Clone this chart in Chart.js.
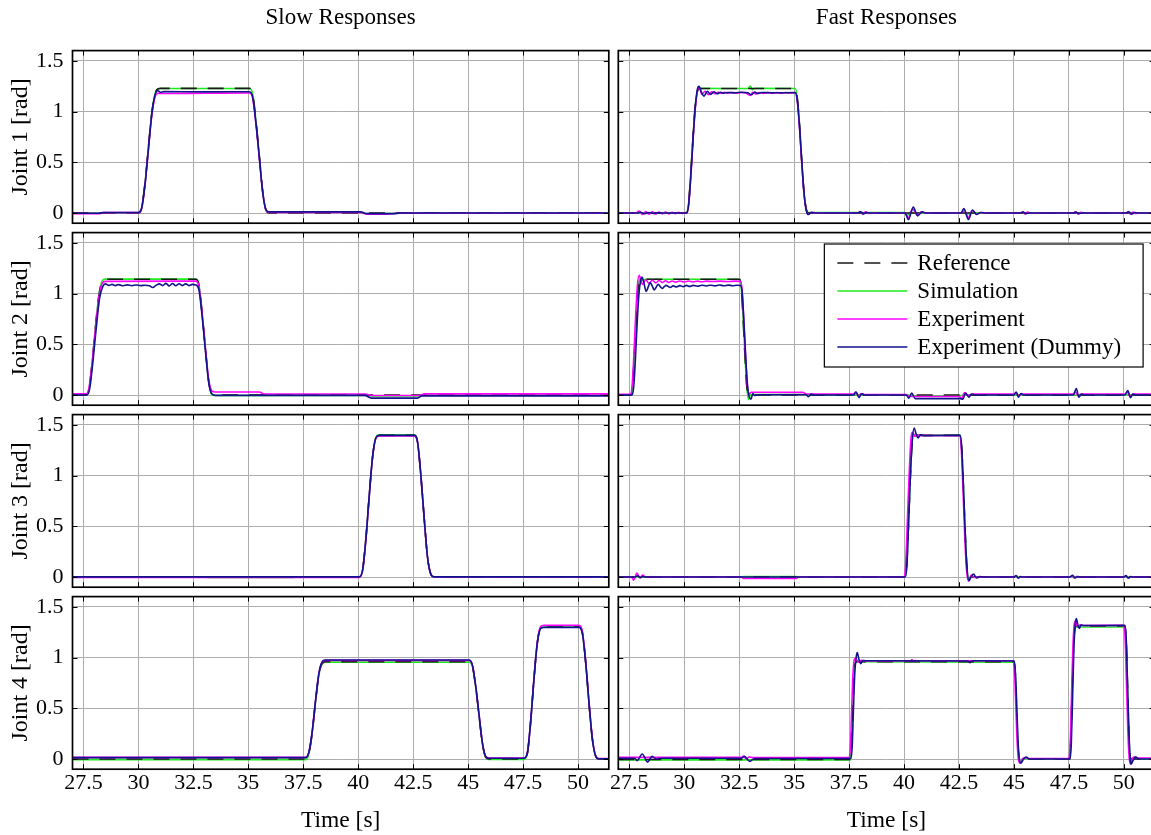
<!DOCTYPE html>
<html><head><meta charset="utf-8">
<script src="https://cdn.jsdelivr.net/npm/chart.js@4.4.0/dist/chart.umd.min.js"></script>
<style>
html,body{margin:0;padding:0;background:#fff;overflow:hidden;width:1151px;height:835px;}
.p{position:absolute;}
</style></head><body>
<div id="wrap"></div>
<script>
// ---------------- DATA ----------------
const xTicks = [27.5, 30, 32.5, 35, 37.5, 40, 42.5, 45, 47.5, 50];
const yTicks = [0, 0.5, 1, 1.5];
const columnTitles = ['Slow Responses', 'Fast Responses'];
const jointLabels = ['Joint 1 [rad]', 'Joint 2 [rad]', 'Joint 3 [rad]', 'Joint 4 [rad]'];
const xTitle = 'Time [s]';
const seriesNames = ['Reference', 'Simulation', 'Experiment', 'Experiment (Dummy)'];

// ---- Slow, Joint 1 ----
const slowRef1 = [[27,0],[30.0,0],[30.15,0.06],[30.3,0.3],[30.45,0.64],[30.6,0.97],[30.75,1.17],[30.9,1.225],[31.0,1.228],[35.05,1.228],[35.2,1.17],[35.35,0.9],[35.5,0.56],[35.65,0.22],[35.8,0.03],[35.95,0],[51.4,0]];
const slowSim1 = [[27,0],[30.0,0],[30.15,0.06],[30.3,0.3],[30.45,0.64],[30.6,0.97],[30.75,1.17],[30.9,1.224],[31.0,1.226],[35.05,1.226],[35.2,1.17],[35.35,0.9],[35.5,0.56],[35.65,0.22],[35.8,0.03],[35.95,0.008],[40.1,0.008],[40.3,-0.005],[41.5,-0.005],[42,0],[51.4,0]];
const slowExp1 = [[27,-0.006],[28.2,-0.006],[28.4,0.004],[30.0,0.004],[30.15,0.05],[30.3,0.28],[30.45,0.62],[30.6,0.95],[30.75,1.14],[30.9,1.18],[31.1,1.178],[33,1.18],[35.05,1.182],[35.2,1.13],[35.35,0.87],[35.5,0.54],[35.65,0.21],[35.8,0.03],[35.95,0.006],[40.1,0.006],[40.4,-0.012],[41.2,-0.012],[41.8,-0.002],[51.4,-0.002]];
const slowDum1 = [[27,-0.002],[28.2,-0.002],[28.4,0.005],[30.0,0.005],[30.15,0.05],[30.3,0.28],[30.45,0.62],[30.6,0.96],[30.75,1.16],[30.88,1.205],[31.0,1.19],[31.15,1.196],[33,1.193],[35.05,1.195],[35.2,1.14],[35.35,0.88],[35.5,0.55],[35.65,0.21],[35.8,0.035],[35.95,0.012],[40.1,0.012],[40.4,-0.006],[41.5,-0.006],[42,0],[51.4,0]];

// ---- Fast, Joint 1 ----
const fastRef1 = [[27,0],[30.1,0],[30.2,0.1],[30.3,0.4],[30.4,0.75],[30.5,1.05],[30.6,1.2],[30.7,1.226],[35.05,1.226],[35.15,1.12],[35.25,0.85],[35.35,0.5],[35.45,0.2],[35.55,0.04],[35.65,0],[51.4,0]];
const fastSim1 = [[27,0],[30.1,0],[30.2,0.1],[30.3,0.4],[30.4,0.75],[30.5,1.05],[30.6,1.2],[30.7,1.228],[32.9,1.226],[33.0,1.25],[33.1,1.215],[33.2,1.228],[35.05,1.226],[35.15,1.12],[35.25,0.85],[35.35,0.5],[35.45,0.2],[35.55,0.04],[35.65,0.004],[40.05,0.004],[40.15,-0.02],[40.3,0.01],[40.45,0.002],[42.6,0.002],[42.7,0.015],[42.85,-0.01],[43.0,0.002],[51.4,0.002]];
const fastExp1 = [[27,0],[27.8,0],[27.95,0.02],[28.1,-0.015],[28.25,0.015],[28.4,-0.012],[28.55,0.012],[28.7,-0.01],[28.85,0.01],[29.0,-0.008],[29.15,0.01],[29.3,-0.008],[29.45,0.008],[29.6,-0.006],[29.75,0.008],[29.9,-0.005],[30.05,0.005],[30.12,0],[30.2,0.08],[30.3,0.36],[30.4,0.72],[30.5,1.02],[30.6,1.2],[30.68,1.24],[30.8,1.17],[30.95,1.2],[31.1,1.165],[31.25,1.195],[31.4,1.175],[31.55,1.19],[31.7,1.178],[31.85,1.19],[32.0,1.18],[32.2,1.188],[32.4,1.18],[32.6,1.188],[32.8,1.182],[33.0,1.158],[33.12,1.19],[33.25,1.172],[33.4,1.186],[33.6,1.178],[33.8,1.186],[34.0,1.18],[34.2,1.186],[34.4,1.18],[34.6,1.186],[34.8,1.182],[35.05,1.185],[35.15,1.09],[35.25,0.82],[35.35,0.48],[35.45,0.19],[35.55,0.03],[35.65,-0.012],[35.8,0.008],[36.0,0],[37.9,0],[38.0,0.015],[38.12,-0.01],[38.25,0.012],[38.4,-0.005],[38.55,0],[40.05,0],[40.18,-0.05],[40.4,0.04],[40.6,-0.02],[40.8,0.012],[41.0,0],[42.6,0],[42.72,0.04],[42.92,-0.045],[43.1,0.025],[43.3,-0.01],[43.5,0.005],[43.7,0],[45.3,0],[45.4,0.012],[45.5,-0.01],[45.62,0.01],[45.75,0],[47.7,0],[47.8,0.012],[47.92,-0.01],[48.05,0.008],[48.2,0],[50.1,0],[50.2,0.015],[50.3,-0.012],[50.42,0.01],[50.55,-0.005],[50.7,0],[51.4,0]];
const fastDum1 = [[27,0],[27.9,0],[28.0,0.008],[28.2,-0.006],[28.4,0.005],[28.6,-0.004],[28.8,0.003],[29.0,0],[30.1,0],[30.2,0.08],[30.3,0.37],[30.4,0.73],[30.5,1.04],[30.6,1.22],[30.67,1.248],[30.78,1.19],[30.9,1.152],[31.05,1.2],[31.2,1.168],[31.35,1.195],[31.5,1.175],[31.65,1.19],[31.8,1.18],[32.0,1.188],[32.3,1.184],[32.6,1.19],[32.9,1.185],[33.05,1.165],[33.2,1.192],[33.35,1.178],[33.5,1.188],[34.0,1.185],[35.05,1.186],[35.15,1.1],[35.25,0.84],[35.35,0.5],[35.45,0.2],[35.55,0.03],[35.65,-0.015],[35.78,0.006],[36.0,0],[37.9,0],[38.02,0.012],[38.15,-0.008],[38.3,0.006],[38.45,0],[40.05,0],[40.2,-0.065],[40.42,0.058],[40.62,-0.028],[40.82,0.012],[41.0,0],[42.6,0],[42.72,0.045],[42.93,-0.062],[43.12,0.03],[43.3,-0.014],[43.5,0.006],[43.7,0],[45.3,0],[45.42,0.01],[45.55,-0.006],[45.7,0],[47.7,0],[47.82,0.01],[47.95,-0.006],[48.1,0],[50.1,0],[50.22,0.012],[50.35,-0.01],[50.5,0.006],[50.65,0],[51.4,0]];

// ---- Slow, Joint 2 ----
const slowRef2 = [[27,0],[27.62,0],[27.75,0.06],[27.9,0.33],[28.05,0.68],[28.2,0.98],[28.35,1.12],[28.5,1.14],[32.6,1.14],[32.75,1.09],[32.9,0.8],[33.05,0.45],[33.2,0.13],[33.35,0.01],[33.5,0],[51.4,0]];
const slowSim2 = [[27,0],[27.62,0],[27.75,0.06],[27.9,0.33],[28.05,0.68],[28.2,0.98],[28.35,1.125],[28.5,1.142],[32.6,1.142],[32.75,1.09],[32.9,0.8],[33.05,0.45],[33.2,0.13],[33.35,0.0],[33.5,-0.004],[40.3,-0.004],[40.6,-0.01],[42.7,-0.01],[42.9,0],[51.4,0]];
const slowExp2 = [[27,0.012],[27.62,0.012],[27.75,0.07],[27.9,0.33],[28.05,0.67],[28.2,0.96],[28.35,1.1],[28.5,1.12],[32.6,1.122],[32.75,1.075],[32.9,0.8],[33.05,0.46],[33.2,0.15],[33.35,0.04],[33.5,0.03],[35.5,0.03],[35.7,0.01],[40.3,0.01],[40.6,-0.005],[42.8,-0.005],[43.0,0.012],[51.4,0.012]];
const slowDum2 = [[27,0],[27.65,0],[27.78,0.06],[27.93,0.33],[28.08,0.66],[28.23,0.95],[28.38,1.07],[28.5,1.095],[28.65,1.08],[28.8,1.09],[28.95,1.078],[29.1,1.088],[29.3,1.076],[29.5,1.085],[29.7,1.077],[29.9,1.084],[30.1,1.078],[30.3,1.082],[30.5,1.076],[30.65,1.06],[30.8,1.08],[30.95,1.095],[31.1,1.078],[31.25,1.1],[31.4,1.075],[31.55,1.098],[31.7,1.076],[31.85,1.096],[32.0,1.078],[32.15,1.095],[32.3,1.078],[32.45,1.09],[32.6,1.085],[32.75,1.04],[32.9,0.77],[33.05,0.43],[33.2,0.12],[33.35,0.01],[33.5,-0.003],[40.3,-0.003],[40.6,-0.03],[42.7,-0.03],[42.9,-0.008],[51.4,-0.008]];

// ---- Fast, Joint 2 ----
const fastRef2 = [[27,0],[27.58,0],[27.65,0.08],[27.72,0.35],[27.8,0.7],[27.88,1.0],[27.96,1.12],[28.05,1.14],[32.52,1.14],[32.6,1.05],[32.68,0.75],[32.76,0.4],[32.84,0.1],[32.92,0],[51.4,0]];
const fastSim2 = [[27,0],[27.58,0],[27.65,0.08],[27.72,0.35],[27.8,0.7],[27.88,1.0],[27.96,1.13],[28.03,1.15],[28.12,1.132],[28.25,1.14],[32.52,1.14],[32.6,1.05],[32.68,0.75],[32.76,0.4],[32.84,0.1],[32.92,-0.045],[33.0,-0.005],[33.1,0.005],[35.5,0.005],[35.7,0],[40.2,0],[40.35,-0.01],[42.5,-0.01],[42.7,0],[51.4,0]];
const fastExp2 = [[27,0.008],[27.55,0.008],[27.63,0.1],[27.71,0.4],[27.79,0.78],[27.87,1.08],[27.95,1.18],[28.1,1.09],[28.25,1.135],[28.4,1.1],[28.55,1.13],[28.7,1.105],[28.85,1.128],[29.0,1.108],[29.15,1.126],[29.3,1.11],[29.45,1.124],[29.6,1.112],[29.8,1.124],[30.0,1.114],[30.2,1.123],[30.4,1.115],[30.6,1.122],[30.8,1.116],[31.0,1.122],[31.3,1.118],[31.6,1.122],[32.0,1.118],[32.3,1.122],[32.55,1.12],[32.63,1.04],[32.71,0.73],[32.79,0.38],[32.87,0.1],[32.95,0.01],[33.05,0.028],[35.4,0.026],[35.55,0.01],[37.7,0.01],[37.8,0.03],[37.92,-0.01],[38.05,0.015],[38.2,0.005],[40.1,0.005],[40.25,-0.015],[42.5,-0.015],[42.62,-0.035],[42.75,0.025],[42.9,-0.005],[43.1,0.01],[45.0,0.01],[45.1,0.025],[45.22,-0.005],[45.35,0.01],[47.7,0.01],[47.8,0.03],[47.92,-0.005],[48.05,0.01],[50.05,0.01],[50.15,0.03],[50.28,-0.015],[50.4,0.01],[51.4,0.01]];
const fastDum2 = [[27,0],[27.62,0],[27.7,0.08],[27.78,0.36],[27.86,0.72],[27.94,1.0],[28.02,1.13],[28.08,1.163],[28.17,1.1],[28.27,1.02],[28.37,1.07],[28.45,1.107],[28.55,1.07],[28.64,1.036],[28.73,1.065],[28.82,1.09],[28.91,1.068],[29.0,1.05],[29.09,1.068],[29.18,1.08],[29.27,1.07],[29.36,1.06],[29.5,1.075],[29.65,1.065],[29.8,1.078],[29.95,1.068],[30.1,1.08],[30.25,1.07],[30.4,1.08],[30.6,1.072],[30.8,1.082],[31.0,1.074],[31.2,1.082],[31.4,1.075],[31.6,1.084],[31.8,1.076],[32.0,1.083],[32.2,1.077],[32.4,1.082],[32.56,1.078],[32.64,1.0],[32.72,0.7],[32.8,0.36],[32.88,0.09],[32.96,-0.02],[33.04,-0.04],[33.12,0.015],[33.2,-0.005],[33.35,0.003],[35.55,0.003],[35.65,-0.016],[35.78,0.01],[35.9,0],[37.7,0],[37.82,0.03],[37.95,-0.025],[38.08,0.012],[38.2,0],[40.1,0],[40.22,-0.03],[40.35,0.02],[40.5,-0.035],[42.55,-0.035],[42.68,-0.04],[42.8,0.02],[42.95,-0.02],[43.08,0.01],[43.2,0],[45.0,0],[45.1,0.03],[45.2,-0.02],[45.32,0.015],[45.45,0],[47.7,0],[47.84,0.065],[47.95,-0.02],[48.08,0.01],[48.2,0],[50.05,0],[50.18,0.045],[50.3,-0.025],[50.42,0.01],[50.55,0],[51.4,0]];

// ---- Slow, Joint 3 ----
const slowRef3 = [[27,0],[40.05,0],[40.2,0.07],[40.35,0.38],[40.5,0.8],[40.65,1.18],[40.8,1.37],[40.95,1.395],[42.55,1.395],[42.7,1.33],[42.85,1.0],[43.0,0.58],[43.15,0.2],[43.3,0.03],[43.45,0],[51.4,0]];
const slowSim3 = [[27,0],[33,0],[33.2,-0.004],[37,-0.004],[37.2,0],[40.05,0],[40.2,0.07],[40.35,0.38],[40.5,0.8],[40.65,1.18],[40.8,1.375],[40.95,1.4],[42.55,1.4],[42.7,1.33],[42.85,1.0],[43.0,0.58],[43.15,0.2],[43.3,0.03],[43.45,0],[51.4,0]];
const slowExp3 = [[27,-0.003],[40.05,-0.003],[40.2,0.065],[40.35,0.37],[40.5,0.79],[40.65,1.17],[40.8,1.365],[40.95,1.39],[42.55,1.39],[42.7,1.325],[42.85,1.0],[43.0,0.58],[43.15,0.2],[43.3,0.03],[43.45,0.002],[51.4,0.002]];
const slowDum3 = [[27,0.002],[40.05,0.002],[40.2,0.07],[40.35,0.38],[40.5,0.8],[40.65,1.18],[40.8,1.37],[40.95,1.395],[42.55,1.395],[42.7,1.33],[42.85,1.0],[43.0,0.58],[43.15,0.2],[43.3,0.03],[43.45,0.002],[51.4,0.002]];

// ---- Fast, Joint 3 ----
const fastRef3 = [[27,0],[40.05,0],[40.12,0.1],[40.2,0.5],[40.28,0.95],[40.36,1.3],[40.44,1.395],[42.55,1.395],[42.62,1.28],[42.7,0.9],[42.78,0.45],[42.86,0.1],[42.94,0],[51.4,0]];
const fastSim3 = [[27,0],[32.6,0],[32.7,0.005],[35.1,0.005],[35.2,0],[40.05,0],[40.12,0.1],[40.2,0.5],[40.28,0.95],[40.36,1.3],[40.44,1.405],[40.55,1.398],[42.55,1.398],[42.62,1.28],[42.7,0.9],[42.78,0.45],[42.86,0.1],[42.94,-0.01],[43.05,0],[51.4,0]];
const fastExp3 = [[27,0],[27.6,0],[27.7,-0.03],[27.85,0.04],[27.98,-0.01],[28.1,0.02],[28.25,0],[32.6,0],[32.7,-0.015],[35.1,-0.015],[35.2,0],[40.0,0],[40.08,0.15],[40.16,0.6],[40.24,1.05],[40.32,1.37],[40.38,1.425],[40.5,1.385],[40.62,1.395],[42.53,1.392],[42.6,1.28],[42.68,0.88],[42.76,0.42],[42.84,0.08],[42.93,-0.04],[43.05,0.02],[43.2,-0.005],[43.35,0],[45.0,0],[45.1,0.012],[45.2,-0.008],[45.3,0],[47.55,0],[47.65,0.015],[47.75,-0.01],[47.85,0.005],[47.95,0],[50.0,0],[50.1,0.012],[50.2,-0.008],[50.3,0],[51.4,0]];
const fastDum3 = [[27,0],[27.75,0],[27.88,0.012],[28.0,-0.005],[28.12,0.006],[28.25,0],[40.05,0],[40.13,0.12],[40.21,0.55],[40.29,1.0],[40.37,1.33],[40.46,1.467],[40.55,1.41],[40.64,1.37],[40.75,1.4],[40.9,1.392],[42.55,1.395],[42.62,1.29],[42.7,0.9],[42.78,0.45],[42.86,0.1],[42.96,-0.035],[43.05,0],[43.16,0.03],[43.3,-0.01],[43.45,0.005],[43.6,0],[45.0,0],[45.1,0.015],[45.2,-0.01],[45.3,0.005],[45.4,0],[47.55,0],[47.67,0.018],[47.78,-0.01],[47.9,0.006],[48.0,0],[50.0,0],[50.1,0.015],[50.2,-0.01],[50.3,0.004],[50.4,0],[51.4,0]];

// ---- Slow, Joint 4 ----
const slowRef4 = [[27,0],[37.6,0],[37.75,0.05],[37.9,0.25],[38.05,0.55],[38.2,0.82],[38.35,0.94],[38.5,0.96],[45.05,0.96],[45.2,0.91],[45.35,0.7],[45.5,0.42],[45.65,0.15],[45.8,0.02],[45.95,0],[47.55,0],[47.7,0.06],[47.85,0.38],[48.0,0.8],[48.15,1.15],[48.3,1.29],[48.45,1.3],[50.05,1.3],[50.2,1.24],[50.35,0.95],[50.5,0.55],[50.65,0.2],[50.8,0.03],[50.95,0],[51.4,0]];
const slowSim4 = [[27,-0.006],[37.6,-0.006],[37.75,0.045],[37.9,0.245],[38.05,0.545],[38.2,0.815],[38.35,0.935],[38.5,0.955],[45.05,0.955],[45.2,0.905],[45.35,0.7],[45.5,0.42],[45.65,0.15],[45.8,0.015],[45.95,-0.003],[47.55,-0.003],[47.7,0.06],[47.85,0.38],[48.0,0.8],[48.15,1.15],[48.3,1.29],[48.45,1.3],[50.05,1.3],[50.2,1.24],[50.35,0.95],[50.5,0.55],[50.65,0.2],[50.8,0.03],[50.95,0],[51.4,0]];
const slowExp4 = [[27,0.016],[37.6,0.016],[37.75,0.065],[37.9,0.26],[38.05,0.56],[38.2,0.83],[38.35,0.95],[38.5,0.972],[45.05,0.972],[45.2,0.92],[45.35,0.71],[45.5,0.43],[45.65,0.16],[45.8,0.025],[45.95,0.01],[47.55,0.01],[47.7,0.07],[47.85,0.39],[48.0,0.81],[48.15,1.16],[48.3,1.305],[48.45,1.318],[50.05,1.318],[50.2,1.255],[50.35,0.96],[50.5,0.56],[50.65,0.21],[50.8,0.035],[50.95,0.005],[51.4,0.005]];
const slowDum4 = [[27,0.014],[37.6,0.014],[37.75,0.065],[37.9,0.26],[38.05,0.56],[38.2,0.83],[38.35,0.955],[38.5,0.975],[45.05,0.975],[45.2,0.92],[45.35,0.71],[45.5,0.43],[45.65,0.16],[45.8,0.025],[45.95,0.008],[47.55,0.008],[47.7,0.065],[47.85,0.38],[48.0,0.8],[48.15,1.145],[48.3,1.285],[48.45,1.297],[50.05,1.297],[50.2,1.235],[50.35,0.945],[50.5,0.55],[50.65,0.2],[50.8,0.03],[50.95,0.003],[51.4,0.003]];

// ---- Fast, Joint 4 ----
const fastRef4 = [[27,-0.004],[37.55,-0.004],[37.6,0.1],[37.66,0.45],[37.72,0.8],[37.78,0.94],[37.84,0.96],[45.0,0.96],[45.06,0.85],[45.12,0.5],[45.18,0.15],[45.24,0.01],[45.3,0],[47.53,0],[47.58,0.15],[47.64,0.6],[47.7,1.05],[47.76,1.27],[47.82,1.31],[50.05,1.31],[50.11,1.15],[50.17,0.7],[50.23,0.25],[50.29,0.02],[50.35,0],[51.4,0]];
const fastSim4 = [[27,-0.008],[37.55,-0.008],[37.6,0.1],[37.66,0.45],[37.72,0.8],[37.78,0.94],[37.84,0.958],[45.0,0.955],[45.06,0.85],[45.12,0.5],[45.18,0.15],[45.24,-0.005],[45.3,-0.02],[45.4,0],[47.53,0],[47.58,0.15],[47.64,0.6],[47.7,1.05],[47.76,1.26],[47.82,1.3],[50.05,1.3],[50.11,1.15],[50.17,0.7],[50.23,0.25],[50.29,0.0],[50.35,-0.02],[50.45,0],[51.4,0]];
const fastExp4 = [[27,0.016],[32.6,0.016],[32.7,0.03],[32.82,0.0],[32.95,0.02],[33.1,0.014],[37.5,0.014],[37.56,0.12],[37.62,0.5],[37.68,0.85],[37.74,0.98],[37.8,0.99],[37.92,0.955],[38.05,0.972],[38.2,0.966],[40.3,0.968],[40.36,0.98],[40.42,0.968],[44.97,0.968],[45.03,0.85],[45.09,0.5],[45.15,0.15],[45.22,-0.02],[45.28,-0.04],[45.38,0],[45.5,0.015],[45.65,0.005],[47.5,0.005],[47.56,0.15],[47.62,0.62],[47.68,1.08],[47.74,1.32],[47.8,1.36],[47.9,1.3],[48.02,1.322],[48.15,1.315],[50.0,1.318],[50.06,1.18],[50.12,0.75],[50.18,0.3],[50.24,0.02],[50.3,-0.05],[50.4,0.01],[50.5,0.02],[50.65,0.01],[51.4,0.01]];
const fastDum4 = [[27,0.008],[27.75,0.008],[27.85,-0.016],[28.09,0.05],[28.33,-0.03],[28.54,0.026],[28.73,0],[28.9,0.008],[32.6,0.008],[32.74,0.026],[32.98,-0.023],[33.2,0.005],[37.58,0.005],[37.64,0.12],[37.7,0.5],[37.76,0.85],[37.82,1.0],[37.87,1.048],[37.95,0.98],[38.03,0.94],[38.12,0.97],[38.25,0.968],[42.9,0.966],[43.0,0.95],[43.1,0.968],[45.02,0.966],[45.08,0.8],[45.14,0.45],[45.2,0.12],[45.26,-0.02],[45.32,-0.04],[45.44,0],[45.56,0.02],[45.7,0],[47.55,0],[47.61,0.15],[47.67,0.62],[47.73,1.1],[47.79,1.33],[47.84,1.385],[47.91,1.32],[47.97,1.287],[48.06,1.32],[48.2,1.315],[50.05,1.317],[50.11,1.18],[50.17,0.72],[50.23,0.28],[50.29,0],[50.33,-0.05],[50.43,-0.01],[50.53,0.02],[50.7,0],[51.4,0]];

// panel table built from the named arrays: [row][col] -> [ref, sim, exp, dummy]
const panels = [
  [[slowRef1, slowSim1, slowExp1, slowDum1], [fastRef1, fastSim1, fastExp1, fastDum1]],
  [[slowRef2, slowSim2, slowExp2, slowDum2], [fastRef2, fastSim2, fastExp2, fastDum2]],
  [[slowRef3, slowSim3, slowExp3, slowDum3], [fastRef3, fastSim3, fastExp3, fastDum3]],
  [[slowRef4, slowSim4, slowExp4, slowDum4], [fastRef4, fastSim4, fastExp4, fastDum4]]
];

// ---------------- STYLE ----------------
const FONT = "'Liberation Serif', 'Times New Roman', serif";
const X_MIN = 27, X_MAX = 51.4, Y_MIN = -0.1, Y_MAX = 1.6;
// order: lower = drawn later (on top)
const seriesStyle = [
  {color: '#1a1a1a', dash: [16, 11], order: 2},
  {color: 'rgb(30,235,30)', dash: [], order: 3},
  {color: '#ff00ff', dash: [], order: 1},
  {color: 'rgb(18,18,140)', dash: [], order: 0}
];

Chart.defaults.font.family = FONT;
Chart.defaults.color = '#000';

const framePlugin = {
  id: 'frame',
  afterDatasetsDraw(chart) {
    const {ctx, chartArea: a, scales: {x, y}} = chart;
    ctx.save();
    ctx.strokeStyle = '#000';
    ctx.lineWidth = 1;
    ctx.beginPath();
    for (const t of x.ticks) {
      const px = Math.round(x.getPixelForValue(t.value)) + 0.5;
      ctx.moveTo(px, a.top); ctx.lineTo(px, a.top + 5);
      ctx.moveTo(px, a.bottom); ctx.lineTo(px, a.bottom - 5);
    }
    for (const t of y.ticks) {
      const py = Math.round(y.getPixelForValue(t.value)) + 0.5;
      ctx.moveTo(a.left, py); ctx.lineTo(a.left + 5, py);
      ctx.moveTo(a.right, py); ctx.lineTo(a.right - 5, py);
    }
    ctx.stroke();
    ctx.lineWidth = 1.7;
    ctx.strokeRect(a.left, a.top, a.right - a.left, a.bottom - a.top);
    ctx.restore();
  }
};

const boxLegendPlugin = {
  id: 'boxLegend',
  afterDraw(chart, args, opts) {
    if (!opts || !opts.show) return;
    const {ctx, chartArea: a} = chart;
    const ds = chart.data.datasets;
    ctx.save();
    ctx.font = '23px ' + FONT;
    const maxW = Math.max(...ds.map(d => ctx.measureText(d.label).width));
    const w = 93 + maxW + 22, h = 123;
    const right = a.right - 11.5, left = right - w, top = a.top + 11.4;
    ctx.fillStyle = '#fff';
    ctx.fillRect(left, top, w, h);
    ctx.strokeStyle = '#000';
    ctx.lineWidth = 1.2;
    ctx.strokeRect(left, top, w, h);
    ds.forEach((d, i) => {
      const yy = top + 19 + i * 28;
      ctx.strokeStyle = d.borderColor;
      ctx.lineWidth = d.borderWidth;
      ctx.setLineDash(d.borderDash || []);
      ctx.beginPath(); ctx.moveTo(left + 13, yy); ctx.lineTo(left + 83, yy); ctx.stroke();
      ctx.setLineDash([]);
      ctx.fillStyle = '#000';
      ctx.textBaseline = 'middle';
      ctx.textAlign = 'left';
      ctx.fillText(d.label, left + 93, yy + 1);
    });
    ctx.restore();
  }
};

function makeChart(r, c) {
  const chartTop = 50.6 + 182 * r, chartBottom = chartTop + 172.6;
  const canvasTop = r === 0 ? 0 : Math.floor(chartTop) - 8;
  const canvasH = r === 3 ? 835 - canvasTop : Math.ceil(chartBottom) + 7 - canvasTop;
  const xAxisH = r === 3 ? 835 - chartBottom : 0;
  const padTop = r === 0 ? 0 : chartTop - canvasTop;
  const padBottom = canvasTop + canvasH - chartBottom - xAxisH;
  const left = c === 0 ? 0 : 596, width = c === 0 ? 614 : 576;
  const yAxisW = c === 0 ? 72.5 : 618.3 - 596;
  const padRight = c === 0 ? 614 - 608.8 : (596 + 576) - 1154.6;

  const div = document.createElement('div');
  div.className = 'p';
  div.style.left = left + 'px';
  div.style.top = canvasTop + 'px';
  div.style.width = width + 'px';
  div.style.height = canvasH + 'px';
  const cv = document.createElement('canvas');
  cv.width = width; cv.height = canvasH;
  cv.style.width = width + 'px'; cv.style.height = canvasH + 'px';
  div.appendChild(cv);
  document.getElementById('wrap').appendChild(div);

  const datasets = panels[r][c].map((arr, i) => ({
    label: seriesNames[i],
    data: arr.map(([x, y]) => ({x, y})),
    borderColor: seriesStyle[i].color,
    borderDash: seriesStyle[i].dash,
    borderWidth: 1.6,
    pointRadius: 0,
    fill: false,
    cubicInterpolationMode: 'monotone',
    order: seriesStyle[i].order
  }));

  new Chart(cv, {
    type: 'line',
    data: {datasets},
    plugins: [framePlugin, boxLegendPlugin],
    options: {
      responsive: false,
      animation: false,
      events: [],
      layout: {padding: {top: padTop, bottom: padBottom, left: 0, right: padRight}},
      plugins: {
        legend: {display: false},
        tooltip: {enabled: false},
        title: {
          display: r === 0,
          text: columnTitles[c],
          fullSize: false,
          color: '#000',
          font: {size: 23, weight: 'normal', family: FONT},
          padding: {top: 4, bottom: 19}
        },
        boxLegend: {show: r === 1 && c === 1}
      },
      scales: {
        x: {
          type: 'linear', min: X_MIN, max: X_MAX,
          afterBuildTicks: s => { s.ticks = xTicks.map(v => ({value: v})); },
          afterFit: s => { s.height = xAxisH; s.paddingLeft = 0; s.paddingRight = 0; s.paddingTop = 0; s.paddingBottom = 0; },
          grid: {color: '#adadad', lineWidth: 1, drawTicks: false},
          border: {display: false},
          ticks: {display: r === 3, padding: 1, font: {size: 22}, color: '#000', maxRotation: 0, minRotation: 0, autoSkip: false, callback: v => String(v)},
          title: {display: r === 3, text: xTitle, color: '#000', font: {size: 23.5}, padding: {top: 0, bottom: 0}}
        },
        y: {
          type: 'linear', min: Y_MIN, max: Y_MAX,
          afterBuildTicks: s => { s.ticks = yTicks.map(v => ({value: v})); },
          afterFit: s => { s.width = yAxisW; s.paddingLeft = 0; s.paddingRight = 0; s.paddingTop = 0; s.paddingBottom = 0; },
          grid: {color: '#adadad', lineWidth: 1, drawTicks: false},
          border: {display: false},
          ticks: {display: c === 0, padding: 9, font: {size: 22}, color: '#000', callback: v => String(v)},
          title: {display: c === 0, text: jointLabels[r], color: '#000', font: {size: 24}, padding: {top: 6, bottom: 0}}
        }
      }
    }
  });
}

for (let r = 0; r < 4; r++) for (let c = 0; c < 2; c++) makeChart(r, c);
</script>
</body></html>
